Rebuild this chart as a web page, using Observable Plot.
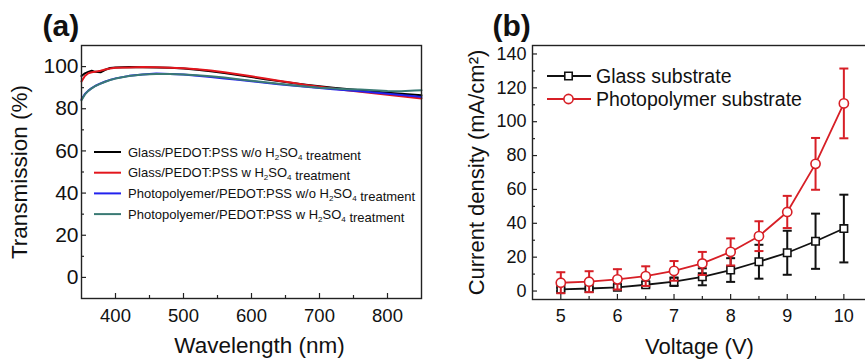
<!DOCTYPE html>
<html><head><meta charset="utf-8">
<script src="https://cdn.jsdelivr.net/npm/d3@7"></script>
<script src="https://cdn.jsdelivr.net/npm/@observablehq/plot@0.6"></script>
<style>
html,body{margin:0;padding:0;background:#fff;overflow:hidden}
#wrap{position:relative;width:865px;height:362px;overflow:hidden}
#wrap svg{position:absolute;top:0}
</style></head><body><div id="wrap"></div>
<script>
// ---------- Panel (a) data ----------
const wavelengthNm = [350,355,360,365,370,378,385,392,400,420,440,460,480,500,520,540,560,580,600,620,640,660,680,700,720,740,760,780,800,820,840,850];
const glassWithout = [95.5,96.8,97.5,98.0,97.5,97.3,98.5,99.3,99.6,99.8,99.7,99.6,99.4,99.1,98.5,97.8,96.9,96.0,95.0,94.0,93.1,92.2,91.4,90.7,90.0,89.4,88.8,88.2,87.6,87.1,86.6,86.4];
const glassWith    = [93.0,95.5,96.8,97.3,97.6,98.0,98.6,99.1,99.4,99.6,99.8,99.7,99.5,99.2,98.7,98.1,97.3,96.4,95.4,94.3,93.3,92.3,91.3,90.4,89.6,88.8,88.1,87.3,86.6,85.9,85.2,84.9];
const photoWithout = [84.5,87.0,88.6,89.8,90.8,92.0,92.9,93.7,94.4,95.6,96.3,96.7,96.5,96.3,95.7,95.0,94.3,93.7,93.0,92.3,91.6,91.0,90.4,89.8,89.3,88.8,88.3,87.7,87.1,86.5,85.9,85.6];
const photoWith    = [84.0,86.8,88.5,89.7,90.7,91.9,92.8,93.6,94.3,95.5,96.2,96.5,96.5,96.3,95.9,95.4,94.8,94.0,93.3,92.6,91.9,91.2,90.6,90.0,89.6,89.3,89.1,88.8,88.4,88.3,88.6,88.8];
const seriesLabelsA = [
  "Glass/PEDOT:PSS w/o H2SO4 treatment",
  "Glass/PEDOT:PSS w H2SO4 treatment",
  "Photopolyemer/PEDOT:PSS w/o H2SO4 treatment",
  "Photopolyemer/PEDOT:PSS w H2SO4 treatment"
];
const xTicksA = [400,500,600,700,800];
const xMinorA = [450,550,650,750];
const yTicksA = [0,20,40,60,80,100];
const yMinorA = [10,30,50,70,90];

// ---------- Panel (b) data ----------
const voltage  = [5,5.5,6,6.5,7,7.5,8,8.5,9,9.5,10];
const glassJ   = [1.0,1.5,2.2,3.7,5.5,8.4,12.4,17.3,22.6,29.4,36.9];
const glassErr = [1.0,1.0,1.2,1.5,2.5,5.0,7.0,10.0,13.0,16.3,20.0];
const photoJ   = [4.9,5.5,6.9,8.8,11.9,16.3,23.1,32.4,46.7,75.1,110.8];
const photoErr = [6.2,6.2,6.0,5.8,5.8,6.8,8.0,8.8,9.5,15.3,20.6];
const seriesLabelsB = ["Glass substrate","Photopolymer substrate"];
const xTicksB = [5,6,7,8,9,10];
const xMinorB = [5.5,6.5,7.5,8.5,9.5];
const yTicksB = [0,20,40,60,80,100,120,140];
const yMinorB = [10,30,50,70,90,110,130];

// ---------- styles ----------
const FONT = "'Liberation Sans', Arial, Helvetica, sans-serif";
const colorsA = ["#000000","#e3161d","#2222ee","#3a7a74"];
const colorsB = ["#111111","#d71f26"];
const INK = "#222";
const fmtInt = d3.format("d");

const seriesA = [glassWithout, glassWith, photoWithout, photoWith];
const dataA = seriesA.flatMap((vals, i) => vals.map((T, j) => ({wavelength: wavelengthNm[j], T, series: seriesLabelsA[i]})));

const wrap = document.getElementById("wrap");

const plotA = Plot.plot({
  width: 430, height: 362,
  marginLeft: 81, marginRight: 9, marginTop: 45, marginBottom: 64,
  style: {fontFamily: FONT, background: "transparent", color: "#111", overflow: "visible"},
  x: {domain: [350, 850]},
  y: {domain: [-10, 110]},
  color: {domain: seriesLabelsA, range: colorsA},
  marks: [
    Plot.line(dataA, {x: "wavelength", y: "T", z: "series", stroke: "series", strokeWidth: 2, curve: "linear"}),
    Plot.frame({stroke: INK, strokeWidth: 1.4}),
    Plot.axisX({ticks: xTicksA, tickSize: -5, tickPadding: 15, fontSize: 18.5, tickFormat: fmtInt, label: null, stroke: INK, strokeWidth: 1.2}),
    Plot.axisX({ticks: xMinorA, tickSize: -3, tickFormat: () => "", label: null, stroke: INK, strokeWidth: 1.2}),
    Plot.axisY({ticks: yTicksA, tickSize: -5, tickPadding: 8, fontSize: 21, tickFormat: fmtInt, label: null, stroke: INK, strokeWidth: 1.2}),
    Plot.axisY({ticks: yMinorA, tickSize: -3, tickFormat: () => "", label: null, stroke: INK, strokeWidth: 1.2}),
    Plot.text(["Wavelength (nm)"], {text: d => d, frameAnchor: "bottom", dy: 47, dx: 8, textAnchor: "middle", lineAnchor: "middle", fontSize: 22.5, fill: "#111"}),
    Plot.text(["Transmission (%)"], {text: d => d, frameAnchor: "left", dx: -62, rotate: -90, textAnchor: "middle", lineAnchor: "middle", fontSize: 22.5, fill: "#111"}),
    Plot.text(["(a)"], {text: d => d, frameAnchor: "top-left", dx: -39, dy: -19, textAnchor: "start", lineAnchor: "middle", fontSize: 30, fontWeight: "bold", fill: "#111"})
  ]
});
plotA.style.left = "0px";
wrap.appendChild(plotA);

// legend (a)
function richText(sel, label) {
  const parts = label.split(/(H2SO4)/);
  parts.forEach(p => {
    if (p === "H2SO4") {
      sel.append("tspan").text("H");
      sel.append("tspan").attr("dy", 3).attr("font-size", "0.62em").text("2");
      sel.append("tspan").attr("dy", -3).text("SO");
      sel.append("tspan").attr("dy", 3).attr("font-size", "0.62em").text("4");
      sel.append("tspan").attr("dy", -3).text("");
    } else if (p) sel.append("tspan").text(p);
  });
}
{
  const svg = d3.select(plotA);
  const g = svg.append("g").attr("font-family", FONT).attr("font-size", 13).attr("fill", "#111").attr("text-anchor", "start");
  seriesLabelsA.forEach((lab, i) => {
    const y = 152 + i * 20.7;
    g.append("line").attr("x1", 94).attr("x2", 121).attr("y1", y).attr("y2", y).attr("stroke", colorsA[i]).attr("stroke-width", 2);
    const t = g.append("text").attr("x", 128).attr("y", y).attr("dy", "0.36em").attr("text-anchor", "start");
    richText(t, lab);
  });
}

// ---------- Panel (b) ----------
const dataB = [
  ...voltage.map((v, i) => ({V: v, J: glassJ[i], lo: glassJ[i] - glassErr[i], hi: glassJ[i] + glassErr[i], series: seriesLabelsB[0]})),
  ...voltage.map((v, i) => ({V: v, J: photoJ[i], lo: photoJ[i] - photoErr[i], hi: photoJ[i] + photoErr[i], series: seriesLabelsB[1]}))
];
const glassRows = dataB.filter(d => d.series === seriesLabelsB[0]);
const photoRows = dataB.filter(d => d.series === seriesLabelsB[1]);
const capSymbol = {draw(ctx, size) { const w = Math.sqrt(size / Math.PI); ctx.moveTo(-w, 0); ctx.lineTo(w, 0); }};

function seriesMarks(rows, color, symbol, r) {
  return [
    Plot.ruleX(rows, {x: "V", y1: "lo", y2: "hi", stroke: color, strokeWidth: 2}),
    Plot.dot(rows, {x: "V", y: "hi", symbol: capSymbol, r: 4.5, stroke: color, strokeWidth: 2, fill: "none"}),
    Plot.dot(rows, {x: "V", y: "lo", symbol: capSymbol, r: 4.5, stroke: color, strokeWidth: 2, fill: "none"}),
    Plot.line(rows, {x: "V", y: "J", stroke: color, strokeWidth: 1.8}),
    Plot.dot(rows, {x: "V", y: "J", symbol, r, stroke: color, strokeWidth: 1.6, fill: "white"})
  ];
}

const plotB = Plot.plot({
  width: 440, height: 362,
  marginLeft: 102, marginRight: 4, marginTop: 45, marginBottom: 63,
  style: {fontFamily: FONT, background: "transparent", color: "#111", overflow: "visible"},
  x: {domain: [4.5, 10.4]},
  y: {domain: [-5, 145]},
  marks: [
    ...seriesMarks(glassRows, colorsB[0], "square", 4.2),
    ...seriesMarks(photoRows, colorsB[1], "circle", 4.6),
    Plot.frame({stroke: INK, strokeWidth: 1.4}),
    Plot.axisX({ticks: xTicksB, tickSize: -5, tickPadding: 15, fontSize: 18, tickFormat: fmtInt, label: null, stroke: INK, strokeWidth: 1.2}),
    Plot.axisX({ticks: xMinorB, tickSize: -3, tickFormat: () => "", label: null, stroke: INK, strokeWidth: 1.2}),
    Plot.axisY({ticks: yTicksB, tickSize: -5, tickPadding: 11, fontSize: 18, tickFormat: fmtInt, label: null, stroke: INK, strokeWidth: 1.2}),
    Plot.axisY({ticks: yMinorB, tickSize: -3, tickFormat: () => "", label: null, stroke: INK, strokeWidth: 1.2}),
    Plot.text(["Voltage (V)"], {text: d => d, frameAnchor: "bottom", dy: 47, textAnchor: "middle", lineAnchor: "middle", fontSize: 22, fill: "#111"}),
    Plot.text(["Current density (mA/cm²)"], {text: d => d, frameAnchor: "left", dx: -56, rotate: -90, textAnchor: "middle", lineAnchor: "middle", fontSize: 22, fill: "#111"}),
    Plot.text(["(b)"], {text: d => d, frameAnchor: "top-left", dx: -40, dy: -19, textAnchor: "start", lineAnchor: "middle", fontSize: 30, fontWeight: "bold", fill: "#111"})
  ]
});
plotB.style.left = "430px";
wrap.appendChild(plotB);

// legend (b)
{
  const svg = d3.select(plotB);
  const g = svg.append("g").attr("font-family", FONT).attr("font-size", 19.5).attr("fill", "#111").attr("text-anchor", "start");
  const syms = [d3.symbolSquare, d3.symbolCircle];
  const sizes = [4.2 * 4.2 * Math.PI, 4.6 * 4.6 * Math.PI];
  seriesLabelsB.forEach((lab, i) => {
    const y = 76 + i * 23;
    g.append("line").attr("x1", 117).attr("x2", 161).attr("y1", y).attr("y2", y).attr("stroke", colorsB[i]).attr("stroke-width", 1.8);
    g.append("path").attr("d", d3.symbol(syms[i], sizes[i])()).attr("transform", `translate(138.5,${y})`)
      .attr("fill", "white").attr("stroke", colorsB[i]).attr("stroke-width", 1.6);
    g.append("text").attr("x", 166).attr("y", y).attr("dy", "0.36em").attr("text-anchor", "start").text(lab);
  });
}
</script></body></html>
